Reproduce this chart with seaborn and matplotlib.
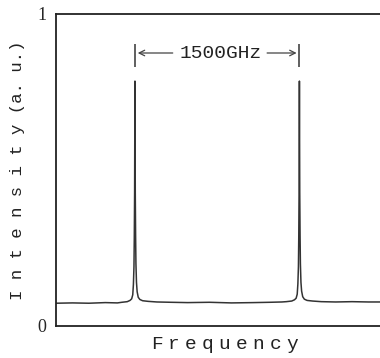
import pandas as pd
import seaborn as sns
import matplotlib.pyplot as plt

# Spectrum (frequency in GHz, intensity in a.u.)
freq = [0, 150, 300, 450, 560, 600, 650, 675, 690, 700, 706, 711, 714, 717, 720,
        723, 726, 729, 734, 740, 750, 765, 790, 840, 920, 1050, 1200, 1400, 1600,
        1800, 1950, 2060, 2100, 2150, 2175, 2190, 2200, 2206, 2211, 2214, 2217, 2220,
        2223, 2226, 2229, 2234, 2240, 2250, 2265, 2290, 2340, 2420, 2550, 2700, 2850, 2955]
intensity = [0.073, 0.074, 0.073, 0.075, 0.074, 0.076, 0.078, 0.082, 0.087, 0.100, 0.133,
             0.190, 0.280, 0.430, 0.785, 0.430, 0.290, 0.200, 0.140, 0.110, 0.092, 0.085,
             0.081, 0.079, 0.077, 0.076, 0.075, 0.076, 0.074, 0.075, 0.076, 0.077, 0.078,
             0.080, 0.084, 0.089, 0.102, 0.135, 0.190, 0.280, 0.430, 0.785, 0.430, 0.290,
             0.200, 0.140, 0.112, 0.094, 0.086, 0.082, 0.080, 0.078, 0.077, 0.078, 0.077, 0.077]
peaks = [720, 2220]
spacing_label = "1500GHz"

df = pd.DataFrame({"Frequency": freq, "Intensity": intensity})

sns.set_style("white")
plt.rcParams['font.family'] = ['Liberation Mono', 'DejaVu Sans']
plt.rcParams['mathtext.fontset'] = 'custom'
plt.rcParams['mathtext.tt'] = 'Liberation Mono'

fig = plt.figure(figsize=(3.8, 3.58), dpi=100)
ax = fig.add_axes([56 / 380, 32 / 358, 324 / 380, 312 / 358])

sns.lineplot(data=df, x="Frequency", y="Intensity", ax=ax, color="#333333", linewidth=1.1)

ax.set_xlim(0, 2955)
ax.set_ylim(0, 1)
ax.set_xticks([])
ax.set_yticks([0, 1])
ax.set_yticklabels(["0", "1"], fontsize=13, family="Liberation Serif")
ax.tick_params(axis="y", length=0, pad=7)

for side in ["left", "bottom", "top"]:
    ax.spines[side].set_color("#222222")
    ax.spines[side].set_linewidth(1.3)
ax.spines["right"].set_visible(False)

# spacing marker between the two lines
ax.vlines(peaks, 0.83, 0.905, color="#444444", linewidth=1.2)
ax.annotate("", xy=(peaks[0], 0.875), xytext=(1090, 0.875),
            arrowprops=dict(arrowstyle="->", color="#444444", lw=0.9))
ax.annotate("", xy=(peaks[1], 0.875), xytext=(1900, 0.875),
            arrowprops=dict(arrowstyle="->", color="#444444", lw=0.9))
ax.text(1500, 0.875, spacing_label, ha="center", va="center",
        fontsize=14, color="#222222")

ax.set_xlabel(r"$\mathtt{F\;r\;e\;q\;u\;e\;n\;c\;y}$", fontsize=14, color="#222222")
ax.xaxis.set_label_coords(0.522, -0.03)
ax.set_ylabel("I n t e n s i t y (a. u.)", fontsize=12.5, color="#222222", labelpad=9)

fig.savefig("out.png", dpi=100)
